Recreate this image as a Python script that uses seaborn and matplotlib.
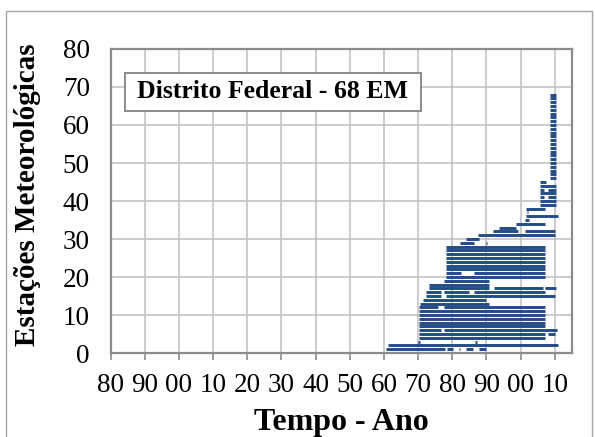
import pandas as pd
import matplotlib.pyplot as plt
import seaborn as sns
from matplotlib.patches import Rectangle

# Periods with data for each station (one row per continuous segment)
seg_station = [1, 1, 1, 1, 1,
               2,
               3, 3,
               4,
               5, 5,
               6, 6,
               7, 8, 9, 10, 11,
               12, 12,
               13, 14,
               15, 15,
               16, 16, 16,
               17, 17, 17,
               18, 19, 20,
               21, 21,
               22, 23, 24, 25, 26, 27, 28,
               29, 29,
               30, 31,
               32, 32,
               33, 34, 35, 36, 37, 38, 39, 40,
               41, 41,
               42,
               43, 43,
               44, 45,
               46, 47, 48, 49, 50, 51, 52, 53, 54, 55, 56, 57,
               58, 59, 60, 61, 62, 63, 64, 65, 66, 67, 68]
seg_start = [1960.6, 1978.5, 1981.9, 1984.0, 1987.8,
             1961.2,
             1970.0, 1986.8,
             1970.3,
             1970.3, 2008.0,
             1970.3, 1977.5,
             1970.3, 1970.3, 1970.3, 1970.3, 1970.3,
             1970.3, 1977.5,
             1970.5, 1971.5,
             1972.3, 1978.3,
             1972.3, 1977.5, 1986.4,
             1973.2, 1992.1, 2007.2,
             1973.2, 1977.5, 1978.3,
             1978.3, 1986.4,
             1978.3, 1978.3, 1978.3, 1978.3, 1978.3, 1978.3, 1978.3,
             1982.4, 1989.8,
             1984.1, 1987.6,
             1992.0, 2001.2,
             1993.7, 1998.6, 2001.2, 2001.7, 2001.8, 2001.7, 2005.6, 2005.6,
             2005.6, 2008.0,
             2005.6,
             2005.6, 2008.0,
             2005.6, 2005.6,
             2008.6, 2008.6, 2008.6, 2008.6, 2008.6, 2008.6, 2008.6, 2008.6,
             2008.6, 2008.6, 2008.6, 2008.6,
             2008.6, 2008.6, 2008.6, 2008.6, 2008.6, 2008.6, 2008.6, 2008.6,
             2008.6, 2008.6, 2008.6]
seg_end = [1977.8, 1980.3, 1982.3, 1986.0, 1990.0,
           2011.0,
           1970.5, 1987.3,
           2007.2,
           2007.2, 2010.0,
           1976.8, 2010.7,
           2007.2, 2007.2, 2007.2, 2007.2, 2007.2,
           1975.9, 2007.2,
           1990.8, 1990.0,
           1976.8, 2010.0,
           1976.8, 1985.0, 2007.2,
           1990.7, 2006.5, 2010.4,
           1990.7, 1990.7, 2007.2,
           1982.7, 2007.2,
           2007.2, 2007.2, 2007.2, 2007.2, 2007.2, 2007.2, 2007.2,
           1986.3, 1990.2,
           1987.8, 2010.0,
           1999.2, 2010.0,
           1998.8, 2007.2, 2002.6, 2011.1, 2002.2, 2007.2, 2010.4, 2010.4,
           2007.0, 2010.4,
           2010.4,
           2007.0, 2010.4,
           2010.4, 2007.5,
           2010.4, 2010.4, 2010.4, 2010.4, 2010.4, 2010.4, 2010.4, 2010.4,
           2010.4, 2010.4, 2010.4, 2010.4,
           2010.4, 2010.4, 2010.4, 2010.4, 2010.4, 2010.4, 2010.4, 2010.4,
           2010.4, 2010.4, 2010.4]

year_ticks = [1880, 1890, 1900, 1910, 1920, 1930, 1940, 1950, 1960, 1970,
              1980, 1990, 2000, 2010]
year_labels = ['80', '90', '00', '10', '20', '30', '40', '50', '60', '70',
               '80', '90', '00', '10']
station_ticks = [0, 10, 20, 30, 40, 50, 60, 70, 80]

# long table: two points (start, end) per segment
rows = []
for i, (s, a, b) in enumerate(zip(seg_station, seg_start, seg_end)):
    rows.append({'seg': i, 'station': s, 'year': a})
    rows.append({'seg': i, 'station': s, 'year': b})
df = pd.DataFrame(rows)

sns.set_style("whitegrid")
plt.rcParams['font.family'] = ['Liberation Serif', 'DejaVu Serif']
plt.rcParams['text.color'] = 'black'
plt.rcParams['axes.labelcolor'] = 'black'

fig = plt.figure(figsize=(5.95, 4.37), dpi=100)
ax = fig.add_axes([0.186, 0.192, 0.775, 0.696])

sns.lineplot(data=df, x='year', y='station', units='seg', estimator=None,
             color='#234b86', linewidth=2.1, legend=False, ax=ax,
             solid_capstyle='butt')

ax.set_xlim(1880, 2015)
ax.set_ylim(0, 80)
ax.set_xticks(year_ticks)
ax.set_xticklabels(year_labels)
ax.set_yticks(station_ticks)

ax.grid(True, color='#bfbfbf', linewidth=1.1)
for sp in ax.spines.values():
    sp.set_color('#8c8c8c')
    sp.set_linewidth(1.6)
    sp.set_visible(True)

ax.tick_params(axis='x', length=5, width=1.2, color='#8c8c8c', direction='out',
               bottom=True, labelsize=19.5, pad=9, labelcolor='black')
ax.tick_params(axis='y', length=0, labelsize=19.5, pad=15, labelcolor='black')

ax.set_xlabel('Tempo - Ano', fontsize=23, fontweight='bold')
ax.set_ylabel('Estações Meteorológicas', fontsize=21, fontweight='bold')
ax.xaxis.set_label_coords(0.5, -0.18)
ax.yaxis.set_label_coords(-0.152, 0.52)

# title box
ax.add_patch(Rectangle((0.031, 0.796), 0.642, 0.125, transform=ax.transAxes,
                       facecolor='white', edgecolor='#8c8c8c', linewidth=1.4,
                       zorder=5))
ax.text(0.352, 0.859, 'Distrito Federal - 68 EM', transform=ax.transAxes,
        fontsize=18.5, fontweight='bold', ha='center', va='center', zorder=6)

# outer chart frame
fig.patches.append(Rectangle((6 / 595, -0.01), 586 / 595, (437 - 11) / 437 + 0.01,
                             transform=fig.transFigure, fill=False,
                             edgecolor='#a6a6a6', linewidth=1.0))

fig.savefig('out.png', dpi=100)
